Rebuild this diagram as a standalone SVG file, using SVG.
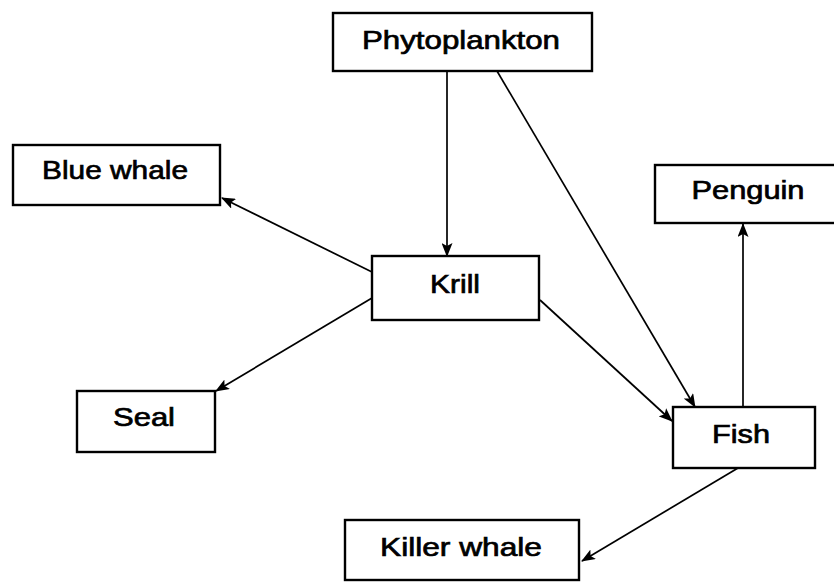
<svg xmlns="http://www.w3.org/2000/svg" width="834" height="583" viewBox="0 0 834 583">
<style>
  .box { fill: #fff; stroke: #000; stroke-width: 2.4; }
  .lbl { font-family: "Liberation Sans", Arial, sans-serif; font-size: 26px; fill: #000; stroke: #000; stroke-width: 0.7; text-anchor: middle; }
  .edge { fill: none; stroke: #000; stroke-width: 1.7; marker-end: url(#arrow); }
</style>
<defs>
  <marker id="arrow" viewBox="0 0 14 11" refX="13" refY="5.5" markerWidth="14" markerHeight="11" markerUnits="userSpaceOnUse" orient="auto">
    <path d="M0,0 L14,5.5 L0,11 L3,5.5 Z" fill="#000"/>
  </marker>
</defs>
<rect width="834" height="583" fill="#fff"/>
<g id="connectors">
  <line class="edge" x1="447" y1="71" x2="447" y2="256"/>
  <line class="edge" x1="497" y1="71" x2="695" y2="407"/>
  <line class="edge" x1="372" y1="272" x2="222" y2="198"/>
  <line class="edge" x1="372" y1="298" x2="216" y2="391"/>
  <line class="edge" x1="540" y1="300" x2="672" y2="421"/>
  <line class="edge" x1="743" y1="407" x2="743" y2="224"/>
  <line class="edge" x1="738" y1="468" x2="582" y2="561"/>
</g>
<g id="phytoplankton">
  <rect class="box" x="333" y="13" width="259" height="58"/>
  <text class="lbl" x="461" y="49" textLength="198" lengthAdjust="spacingAndGlyphs">Phytoplankton</text>
</g>
<g id="blue-whale">
  <rect class="box" x="13" y="145" width="207" height="60"/>
  <text class="lbl" x="115" y="179" textLength="146" lengthAdjust="spacingAndGlyphs">Blue whale</text>
</g>
<g id="krill">
  <rect class="box" x="372" y="256" width="167" height="64"/>
  <text class="lbl" x="455" y="293" textLength="50" lengthAdjust="spacingAndGlyphs">Krill</text>
</g>
<g id="penguin">
  <rect class="box" x="655" y="165" width="185" height="58"/>
  <text class="lbl" x="748" y="199" textLength="113" lengthAdjust="spacingAndGlyphs">Penguin</text>
</g>
<g id="fish">
  <rect class="box" x="673" y="407" width="142" height="61"/>
  <text class="lbl" x="741" y="443" textLength="58" lengthAdjust="spacingAndGlyphs">Fish</text>
</g>
<g id="seal">
  <rect class="box" x="77" y="391" width="138" height="61"/>
  <text class="lbl" x="144" y="426" textLength="62" lengthAdjust="spacingAndGlyphs">Seal</text>
</g>
<g id="killer-whale">
  <rect class="box" x="345" y="520" width="234" height="60"/>
  <text class="lbl" x="461" y="556" textLength="162" lengthAdjust="spacingAndGlyphs">Killer whale</text>
</g>
</svg>
